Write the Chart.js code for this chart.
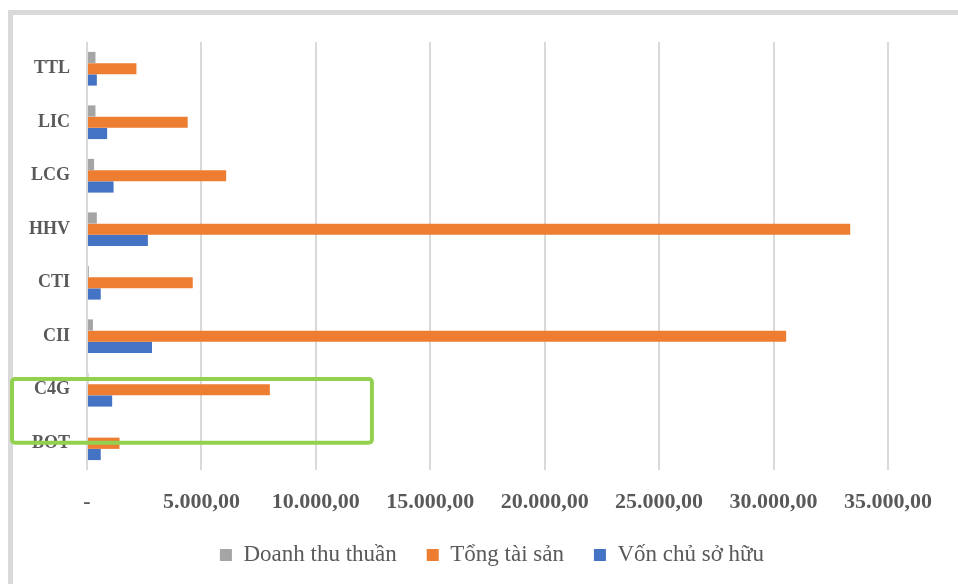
<!DOCTYPE html>
<html>
<head>
<meta charset="utf-8">
<script src="https://cdn.jsdelivr.net/npm/chart.js@4.4.1/dist/chart.umd.min.js"></script>
<style>
  html, body { margin: 0; padding: 0; background: #fff; }
  #wrap { position: relative; width: 958px; height: 584px; overflow: hidden; }
  #frame { position: absolute; left: 8px; top: 10px; width: 1000px; height: 700px;
           border-left: 5px solid #d9d9d9; border-top: 5px solid #d9d9d9; }
  #chart { position: absolute; left: 0; top: 0; }
</style>
</head>
<body>
<div id="wrap">
  <div id="frame"></div>
  <canvas id="chart" width="958" height="584"></canvas>
</div>
<script>
// categories, top to bottom
var companies = ['TTL', 'LIC', 'LCG', 'HHV', 'CTI', 'CII', 'C4G', 'BOT'];
var doanhThu = [370, 370, 310, 430, 80, 260, 60, 0];
var tongTaiSan = [2160, 4400, 6080, 33350, 4620, 30550, 7990, 1420];
var vonChuSoHuu = [430, 880, 1160, 2660, 600, 2840, 1100, 600];
var xTicks = [0, 5000, 10000, 15000, 20000, 25000, 30000, 35000];

var highlight = { label: 'C4G', next: 'BOT', toValue: 12450 };

function fmt(v) {
    if (v === 0) return '-';
    var s = String(Math.round(v));
    s = s.replace(/\B(?=(\d{3})+(?!\d))/g, '.');
    return s + ',00';
}

var boxPlugin = {
    id: 'greenBox',
    afterDraw: function (chart) {
        var x = chart.scales.x, y = chart.scales.y;
        var i = companies.indexOf(highlight.label);
        var j = companies.indexOf(highlight.next);
        var band = y.getPixelForValue(j) - y.getPixelForValue(i);
        var top = y.getPixelForValue(i) - band * 0.2;
        var bottom = y.getPixelForValue(j) - band * 0.01;
        var left = x.left - 75;
        var right = x.getPixelForValue(highlight.toValue);
        var c = chart.ctx;
        c.save();
        c.strokeStyle = '#92d050';
        c.lineWidth = 4;
        c.beginPath();
        c.roundRect(left, top, right - left, bottom - top, 3);
        c.stroke();
        c.restore();
    }
};

var ctx = document.getElementById('chart').getContext('2d');
var chart = new Chart(ctx, {
    type: 'bar',
    data: {
        labels: companies,
        datasets: [{
            label: 'Doanh thu thuần',
            data: doanhThu,
            backgroundColor: '#a5a5a5'
        }, {
            label: 'Tổng tài sản',
            data: tongTaiSan,
            backgroundColor: '#ed7d31'
        }, {
            label: 'Vốn chủ sở hữu',
            data: vonChuSoHuu,
            backgroundColor: '#4472c4'
        }]
    },
    options: {
        indexAxis: 'y',
        responsive: false,
        animation: false,
        layout: {
            padding: { top: 42, left: 26, right: 0, bottom: 0 }
        },
        datasets: {
            bar: {
                categoryPercentage: 0.63,
                barPercentage: 1.0
            }
        },
        scales: {
            x: {
                min: 0,
                max: 38060,
                afterFit: function (s) { s.height = 43.5; },
                afterBuildTicks: function (s) {
                    s.ticks = xTicks.map(function (v) { return { value: v }; });
                },
                grid: {
                    color: '#d9d9d9',
                    lineWidth: 2,
                    drawTicks: false
                },
                border: { display: false },
                ticks: {
                    autoSkip: false,
                    maxRotation: 0,
                    padding: 19,
                    color: '#595959',
                    font: { family: 'Liberation Serif', size: 22, weight: 'bold' },
                    callback: function (v) { return fmt(v); }
                }
            },
            y: {
                afterFit: function (s) { s.width = 61; },
                grid: { display: false },
                border: { display: false },
                ticks: {
                    padding: 9,
                    color: '#595959',
                    font: { family: 'Liberation Serif', size: 18, weight: 'bold' }
                }
            }
        },
        plugins: {
            tooltip: { enabled: false },
            legend: {
                position: 'bottom',
                labels: {
                    boxWidth: 12,
                    boxHeight: 12,
                    padding: 30,
                    color: '#595959',
                    font: { family: 'Liberation Serif', size: 23 }
                }
            }
        }
    },
    plugins: [boxPlugin]
});

// pin the legend height so the plot keeps the reference proportions
var legendFit = chart.legend.fit;
chart.legend.fit = function () {
    legendFit.call(this);
    this.height = 70.5;
};
chart.update();
</script>
</body>
</html>
